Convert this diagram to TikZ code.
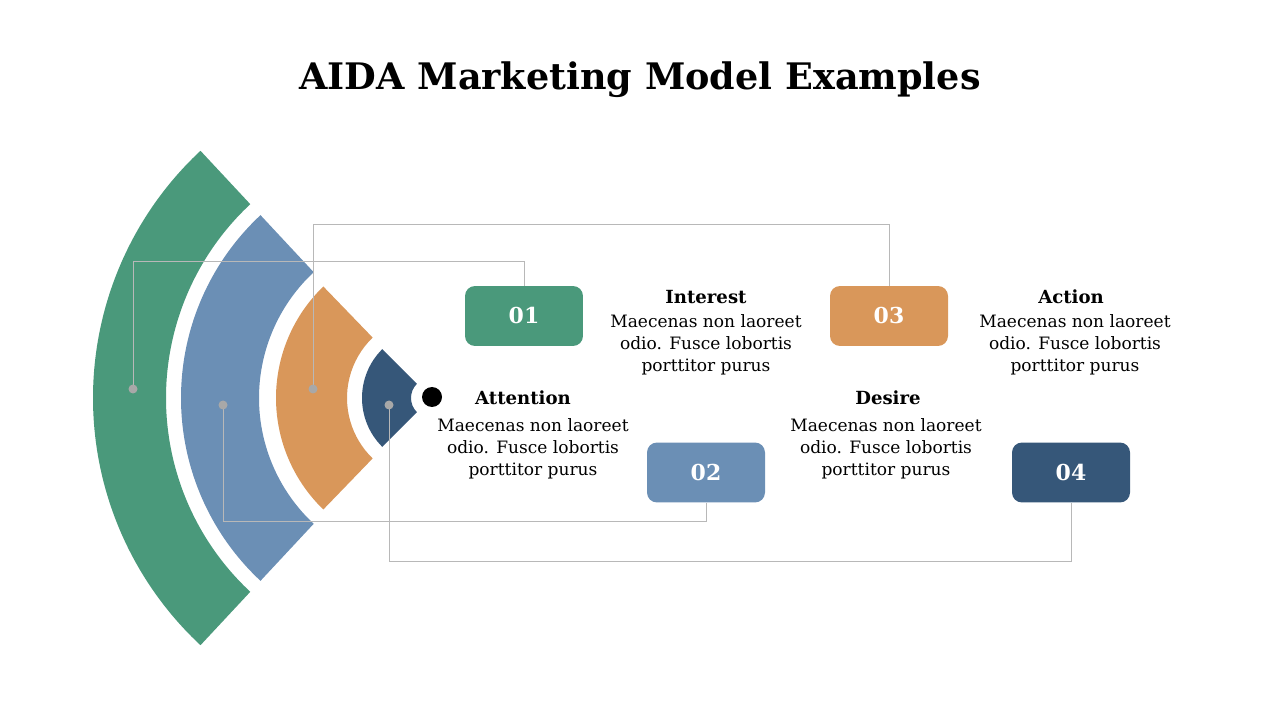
\documentclass[tikz,border=0pt]{standalone}
\usepackage{fontspec}
\setmainfont{DejaVu Serif}
\usetikzlibrary{calc}

\definecolor{aidaGreen}{HTML}{4A997B}
\definecolor{aidaSky}{HTML}{6B8FB5}
\definecolor{aidaOrange}{HTML}{D9975A}
\definecolor{aidaNavy}{HTML}{365779}
\definecolor{leadGray}{HTML}{B8B8B8}
\definecolor{pinGray}{HTML}{A8A8A8}

\tikzset{
  numbox/.style={rounded corners=0.2cm, minimum width=2.36cm, minimum height=1.2cm, inner sep=0pt, text=white, font=\bfseries\fontsize{12.5}{15}\selectfont},
  leader/.style={draw=leadGray, line width=0.5pt},
  pin/.style={circle, fill=pinGray, inner sep=0pt, minimum size=0.18cm},
  heading/.style={inner sep=0pt, font=\bfseries\fontsize{10.3}{13}\selectfont},
  blurb/.style={inner sep=0pt, align=center, font=\fontsize{9.7}{12.5}\selectfont},
}

\begin{document}
\begin{tikzpicture}[x=0.02cm, y=0.02cm]
  \useasboundingbox (0,0) rectangle (1280,720);

  \node[inner sep=0pt, font=\bfseries\fontsize{20.8}{24}\selectfont] (title) at (640,640) {AIDA Marketing Model Examples};

  % rings
  \coordinate (C) at (431,322);
  \fill[aidaGreen] ($(C)+(133:338)$) arc[start angle=133, end angle=227, radius=338] -- ($(C)+(227:265)$) arc[start angle=227, end angle=133, radius=265] -- cycle;
  \fill[aidaSky] ($(C)+(133:250)$) arc[start angle=133, end angle=227, radius=250] -- ($(C)+(227:172)$) arc[start angle=227, end angle=133, radius=172] -- cycle;
  \fill[aidaOrange] ($(C)+(134:155)$) arc[start angle=134, end angle=226, radius=155] -- ($(C)+(226:84)$) arc[start angle=226, end angle=134, radius=84] -- cycle;
  \fill[aidaNavy] ($(C)+(135:69)$) arc[start angle=135, end angle=225, radius=69] -- ($(C)+(225:20)$) arc[start angle=225, end angle=135, radius=20] -- cycle;
  \node[circle, fill=black, inner sep=0pt, minimum size=0.4cm] (eye) at (432,323) {};

  % number boxes
  \node[numbox, fill=aidaGreen] (b1) at (524,404) {01};
  \node[numbox, fill=aidaSky] (b2) at (706,247.5) {02};
  \node[numbox, fill=aidaOrange] (b3) at (889,404) {03};
  \node[numbox, fill=aidaNavy] (b4) at (1071,247.5) {04};

  % leaders
  \coordinate (k1) at (133,459);
  \coordinate (k2) at (223,199);
  \coordinate (k3) at (313,496);
  \coordinate (k4) at (389,159);
  \draw[leader] (133,331) -- (k1) -| (b1.north);
  \draw[leader] (223,315) -- (k2) -| (b2.south);
  \draw[leader] (313,331) -- (k3) -| (b3.north);
  \draw[leader] (389,315) -- (k4) -| (b4.south);
  \node[pin] (p1) at (133,331) {};
  \node[pin] (p2) at (223,315) {};
  \node[pin] (p3) at (313,331) {};
  \node[pin] (p4) at (389,315) {};

  % texts
  \node[heading] (h1) at (523,322) {Attention};
  \node[blurb] (t1) at (533,271) {Maecenas non laoreet\\odio. Fusce lobortis\\porttitor purus};
  \node[heading] (h2) at (706,423) {Interest};
  \node[blurb] (t2) at (706,375) {Maecenas non laoreet\\odio. Fusce lobortis\\porttitor purus};
  \node[heading] (h3) at (888,322) {Desire};
  \node[blurb] (t3) at (886,271) {Maecenas non laoreet\\odio. Fusce lobortis\\porttitor purus};
  \node[heading] (h4) at (1071,423) {Action};
  \node[blurb] (t4) at (1075,375) {Maecenas non laoreet\\odio. Fusce lobortis\\porttitor purus};
\end{tikzpicture}
\end{document}
